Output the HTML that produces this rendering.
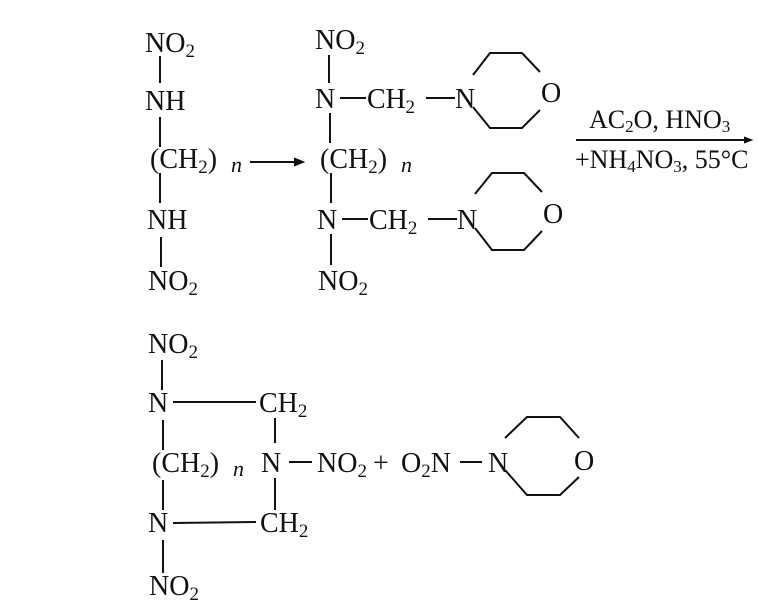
<!DOCTYPE html>
<html><head><meta charset="utf-8"><style>
html,body{margin:0;padding:0;background:#fff;}
svg{display:block;}
text{font-family:"Liberation Serif",serif;font-size:28px;fill:#111;}
.s{font-size:19px;}
.r{font-size:26px;}
.rs{font-size:17px;}
.i{font-style:italic;font-size:22px;}
line,polyline{stroke:#111;stroke-width:2;fill:none;}
</style></head><body>
<svg width="758" height="606" viewBox="0 0 758 606" xmlns="http://www.w3.org/2000/svg">
<!-- molecule 1 -->
<text x="145" y="52">NO<tspan class="s" dy="5">2</tspan></text>
<line x1="160" y1="56" x2="160" y2="83"/>
<text x="145" y="110">NH</text>
<line x1="160" y1="117" x2="160" y2="147"/>
<text x="150" y="168">(CH<tspan class="s" dy="5">2</tspan><tspan dy="-5">)</tspan></text>
<text class="i" x="231" y="172">n</text>
<line x1="160" y1="173" x2="160" y2="203"/>
<text x="147" y="229">NH</text>
<line x1="161" y1="237" x2="161" y2="267"/>
<text x="148" y="290">NO<tspan class="s" dy="5">2</tspan></text>
<line x1="250" y1="162" x2="302" y2="162"/>
<polyline points="294,158 304,162 294,166" style="fill:#111;stroke-width:1"/>
<!-- molecule 2 -->
<text x="315" y="49">NO<tspan class="s" dy="5">2</tspan></text>
<line x1="329" y1="55" x2="329" y2="83"/>
<text x="315" y="108">N</text>
<line x1="340" y1="98" x2="366" y2="98"/>
<text x="367" y="108" textLength="48">CH<tspan class="s" dy="5">2</tspan></text>
<line x1="426" y1="98" x2="455" y2="98"/>
<text x="455" y="108">N</text>
<polyline points="473,75 490,53 522,53 540,72"/>
<polyline points="473,107 490,128 522,128 540,110"/>
<text x="541" y="102">O</text>
<line x1="330" y1="113" x2="330" y2="143"/>
<text x="320" y="168">(CH<tspan class="s" dy="5">2</tspan><tspan dy="-5">)</tspan></text>
<text class="i" x="401" y="172">n</text>
<line x1="331" y1="173" x2="331" y2="203"/>
<text x="317" y="229">N</text>
<line x1="342" y1="219" x2="368" y2="219"/>
<text x="369" y="229">CH<tspan class="s" dy="5">2</tspan></text>
<line x1="428" y1="219" x2="457" y2="219"/>
<text x="457" y="229">N</text>
<polyline points="475,194 492,173 524,173 542,192"/>
<polyline points="475,228 492,250 524,250 542,231"/>
<text x="543" y="223">O</text>
<line x1="331" y1="234" x2="331" y2="265"/>
<text x="318" y="290">NO<tspan class="s" dy="5">2</tspan></text>
<!-- reagents -->
<text class="r" x="589" y="128">AC<tspan class="rs" dy="4">2</tspan><tspan dy="-4">O, HNO</tspan><tspan class="rs" dy="4">3</tspan></text>
<line x1="576" y1="140" x2="750" y2="140"/>
<polyline points="744,137 752,140 744,143" style="fill:#111;stroke-width:1"/>
<text class="r" x="575" y="168">+NH<tspan class="rs" dy="4">4</tspan><tspan dy="-4">NO</tspan><tspan class="rs" dy="4">3</tspan><tspan dy="-4">, 55°C</tspan></text>
<!-- product -->
<text x="148" y="353">NO<tspan class="s" dy="5">2</tspan></text>
<line x1="162" y1="360" x2="162" y2="390"/>
<text x="148" y="412">N</text>
<line x1="173" y1="402" x2="256" y2="402"/>
<text x="259" y="412">CH<tspan class="s" dy="5">2</tspan></text>
<line x1="275" y1="418" x2="275" y2="443"/>
<line x1="163" y1="420" x2="163" y2="450"/>
<text x="152" y="472">(CH<tspan class="s" dy="5">2</tspan><tspan dy="-5">)</tspan></text>
<text class="i" x="233" y="476">n</text>
<text x="261" y="472">N</text>
<line x1="289" y1="462" x2="312" y2="462"/>
<text x="317" y="472">NO<tspan class="s" dy="5">2</tspan></text>
<text x="373" y="472">+</text>
<text x="401" y="472">O<tspan class="s" dy="5">2</tspan><tspan dy="-5">N</tspan></text>
<line x1="460" y1="462" x2="482" y2="462"/>
<text x="488" y="472">N</text>
<polyline points="505,438 527,417 560,417 579,438"/>
<polyline points="505,470 527,495 560,495 579,477"/>
<text x="574" y="470">O</text>
<line x1="163" y1="480" x2="163" y2="510"/>
<line x1="275" y1="478" x2="275" y2="510"/>
<text x="148" y="532">N</text>
<line x1="173" y1="523" x2="256" y2="522"/>
<text x="260" y="532">CH<tspan class="s" dy="5">2</tspan></text>
<line x1="163" y1="540" x2="163" y2="573"/>
<text x="149" y="595">NO<tspan class="s" dy="5">2</tspan></text>
</svg>
</body></html>
